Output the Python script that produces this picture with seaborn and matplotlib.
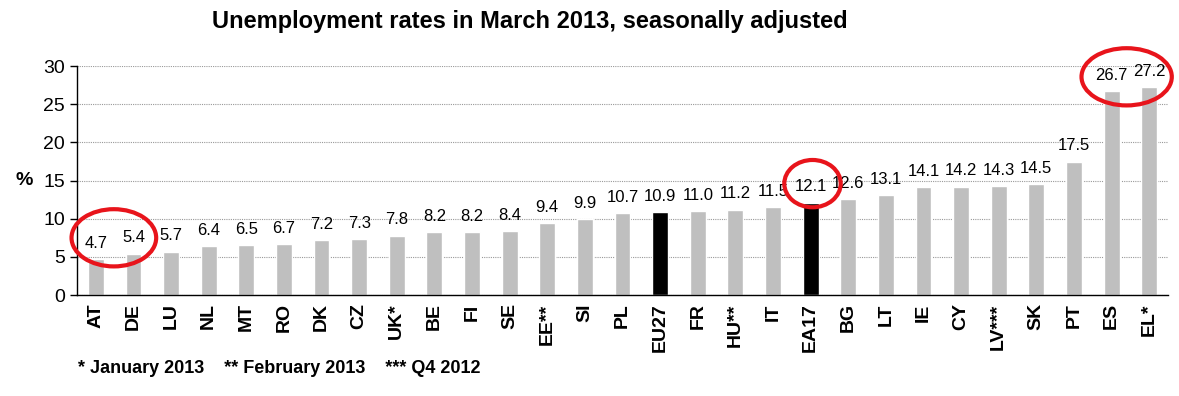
import numpy as np
import pandas as pd
import matplotlib
matplotlib.use("Agg")
import matplotlib.pyplot as plt
import seaborn as sns
from matplotlib.patches import Ellipse
from matplotlib.ticker import MultipleLocator

countries = ["AT", "DE", "LU", "NL", "MT", "RO", "DK", "CZ", "UK*", "BE", "FI", "SE",
             "EE**", "SI", "PL", "EU27", "FR", "HU**", "IT", "EA17", "BG", "LT", "IE",
             "CY", "LV***", "SK", "PT", "ES", "EL*"]
rates = [4.7, 5.4, 5.7, 6.4, 6.5, 6.7, 7.2, 7.3, 7.8, 8.2, 8.2, 8.4,
         9.4, 9.9, 10.7, 10.9, 11.0, 11.2, 11.5, 12.1, 12.6, 13.1, 14.1,
         14.2, 14.3, 14.5, 17.5, 26.7, 27.2]
aggregates = ["EU27", "EA17"]

df = pd.DataFrame({"country": countries, "rate": rates})
palette = {c: ("#000000" if c in aggregates else "#bfbfbf") for c in countries}

sns.set_style("white")
plt.rcParams["font.family"] = ["Liberation Sans", "DejaVu Sans"]
plt.rcParams["text.color"] = "black"
plt.rcParams["xtick.color"] = "black"
plt.rcParams["ytick.color"] = "black"
plt.rcParams["axes.labelcolor"] = "black"

fig = plt.figure(figsize=(11.79, 3.96), dpi=100)
ax = fig.add_axes([0.0653, 0.255, 0.9254, 0.578])

sns.barplot(data=df, x="country", y="rate", hue="country", palette=palette,
            width=0.42, legend=False, ax=ax, saturation=1)

for cont in ax.containers:
    ax.bar_label(cont, fmt="%.1f", padding=6, fontsize=12, color="black")

ax.set_ylim(0, 30)
ax.set_xlim(-0.5, len(countries) - 0.5)
ax.yaxis.set_major_locator(MultipleLocator(5))
ax.grid(axis="y", color="#999999", linestyle=(0, (1, 1)), linewidth=0.8)
ax.set_axisbelow(True)
for s in ["top", "right"]:
    ax.spines[s].set_visible(False)
for s in ["left", "bottom"]:
    ax.spines[s].set_color("black")
    ax.spines[s].set_linewidth(1)

ax.set_xticks(np.arange(len(countries)))
ax.set_xticklabels(countries, rotation=90, fontweight="bold", fontsize=14)
ax.set_xticks(np.arange(len(countries) + 1) - 0.5, minor=True)
ax.tick_params(axis="x", which="major", length=0, pad=6)
ax.tick_params(axis="x", which="minor", length=5, width=1, color="black", direction="out")
ax.tick_params(axis="y", length=5, width=1, color="black", direction="out", labelsize=14)
ax.tick_params(axis="both", bottom=True, left=True)

ax.set_xlabel("")
ax.set_ylabel("%", rotation=0, fontsize=14, fontweight="bold", labelpad=14, va="center")

fig.suptitle("Unemployment rates in March 2013, seasonally adjusted",
             x=0.449, y=0.975, fontsize=17, fontweight="bold")
fig.text(0.066, 0.07, "* January 2013    ** February 2013    *** Q4 2012",
         fontsize=13, fontweight="bold", va="center")

# hand-drawn red circles
circles = [((0.48, 7.5), 2.25, 7.5), ((19.05, 14.6), 1.5, 6.2), ((27.4, 28.6), 2.4, 7.5)]
for (cx, cy), w, h in circles:
    ax.add_patch(Ellipse((cx, cy), w, h, fill=False, edgecolor="#e8141b",
                         linewidth=3, clip_on=False, zorder=5))

fig.savefig("out.png", dpi=100)
